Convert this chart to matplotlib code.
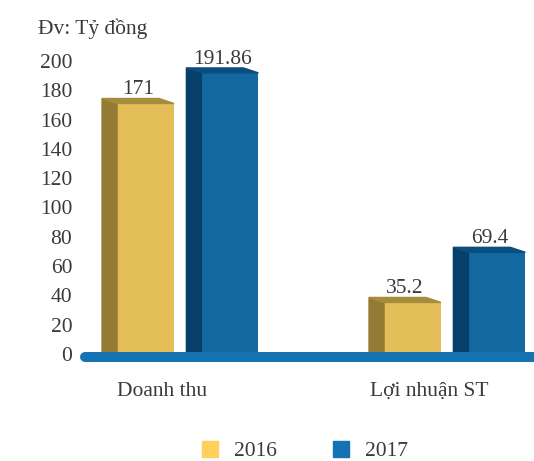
import matplotlib.pyplot as plt
from matplotlib.patches import Polygon, Patch

categories = ['Doanh thu', 'Lợi nhuận ST']
years = ['2016', '2017']
values_2016 = [171, 35.2]
values_2017 = [191.86, 69.4]
value_labels_2016 = ['171', '35.2']
value_labels_2017 = ['191.86', '69.4']
yticks = [0, 20, 40, 60, 80, 100, 120, 140, 160, 180, 200]

front = ['#E3BD58', '#1368A0']
side = ['#937B35', '#053F6A']
top = ['#A88C3E', '#0A4E80']
legend_colors = ['#FFD15C', '#1573B3']
text_color = '#3a3a3a'
fs = 15.5

plt.rcParams['font.family'] = ['Liberation Serif', 'DejaVu Serif']

fig = plt.figure(figsize=(5.34, 4.61), dpi=100)
ax = fig.add_axes([82 / 534, (461 - 354) / 461, 452 / 534, (354 - 61) / 461])

x = [0, 1]
off = 0.158
w = 57 / 267
dx = 15 / 267
dy = 3.4
ax.set_xlim(-0.396, 1.297)
ax.set_ylim(0, 200)

for s, vals, labs in [(0, values_2016, value_labels_2016), (1, values_2017, value_labels_2017)]:
    pos = [p + (off if s else -off) for p in x]
    ax.bar(pos, vals, width=w, color=front[s], zorder=3, clip_on=False)
    for p, v, lab in zip(pos, vals, labs):
        x0, x1 = p - w / 2, p + w / 2
        ax.add_patch(Polygon([(x0, 0), (x0 - dx, 0), (x0 - dx, v + dy), (x0, v)],
                             closed=True, color=side[s], zorder=3, clip_on=False))
        ax.add_patch(Polygon([(x0 - dx, v + dy), (x1 - dx, v + dy), (x1, v), (x0, v)],
                             closed=True, color=top[s], zorder=3, clip_on=False))
        ax.text(p - dx / 2, v + dy - 0.5, lab, ha='center', va='bottom',
                fontsize=fs, color=text_color)

# thick baseline
ax.plot([-0.385, 1.297], [-1.8, -1.8], color='#1673B3', lw=7.2,
        solid_capstyle='round', clip_on=False, zorder=4)

for sp in ax.spines.values():
    sp.set_visible(False)
ax.set_yticks(yticks)
ax.set_yticklabels([str(t) for t in yticks])
ax.tick_params(axis='y', length=0, pad=7, labelsize=fs, labelcolor=text_color)
ax.set_xticks([p - 0.095 for p in x])
ax.set_xticklabels(categories)
ax.tick_params(axis='x', length=0, pad=20, labelsize=fs, labelcolor=text_color)

fig.text(38 / 534, 1 - 29 / 461, 'Đv: Tỷ đồng', ha='left', va='center',
         fontsize=fs, color=text_color)

handles = [Patch(color=c) for c in legend_colors]
fig.legend(handles, years, loc='center', bbox_to_anchor=(305 / 534, 1 - 451 / 461),
           ncol=2, frameon=False, fontsize=fs, labelcolor=text_color,
           handlelength=0.75, handleheight=0.75, handletextpad=0.75, columnspacing=2.6)

fig.savefig('out.png', dpi=100)
